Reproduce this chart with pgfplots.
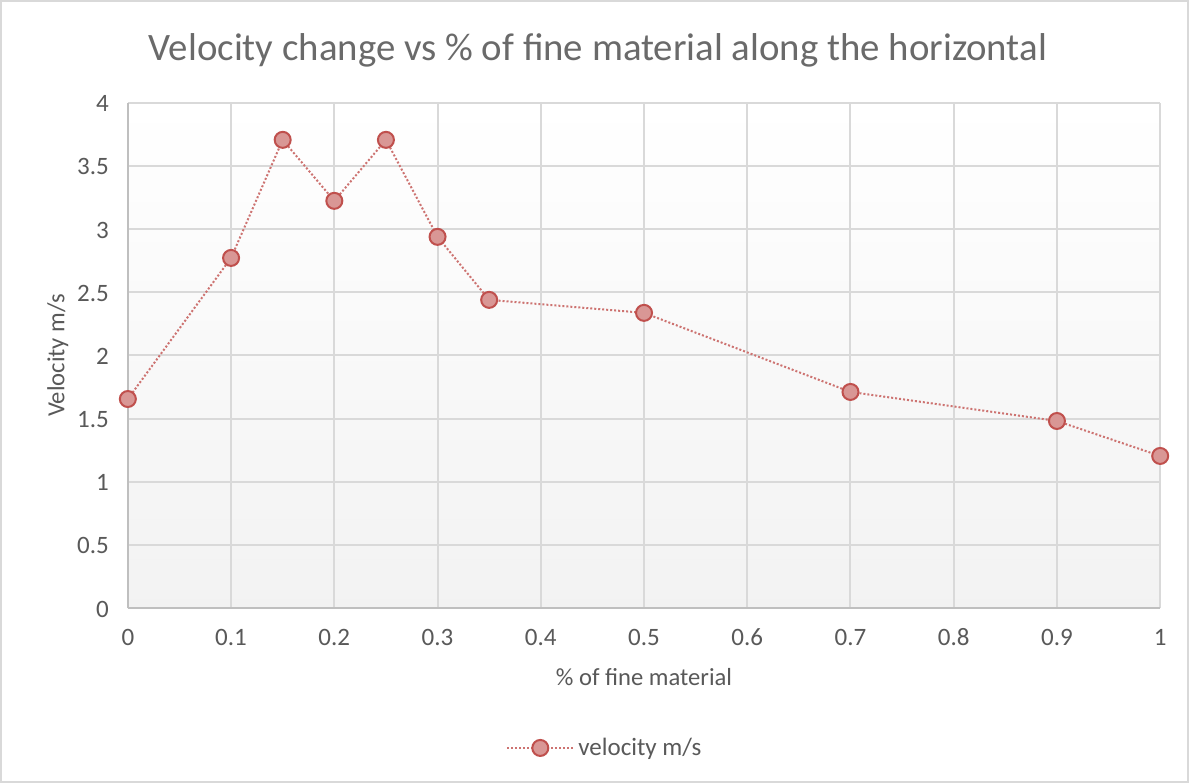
\documentclass[border=0pt]{standalone}
\usepackage{pgfplots}
\pgfplotsset{compat=1.18}
\usepackage{fontspec}
\setmainfont{Carlito}
\definecolor{txt}{HTML}{595959}
\definecolor{ttl}{HTML}{6A6A6A}
\definecolor{gridc}{HTML}{D9D9D9}
\definecolor{axc}{HTML}{BFBFBF}
\definecolor{edge}{HTML}{C0504D}
\definecolor{mfill}{HTML}{D99795}
\begin{document}
\begin{tikzpicture}[x=0.5pt,y=-0.5pt]
\draw[gridc, line width=0.8pt, fill=white] (1,1) rectangle (1188,782);
\node[ttl, font=\fontsize{19.4}{23}\selectfont, anchor=base] at (598,61) {Velocity change vs \% of fine material along the horizontal};
\coordinate (ll) at (128,608);
\begin{axis}[
  at={(ll)}, anchor=south west,
  scale only axis, width=516pt, height=252.5pt,
  xmin=0, xmax=1, ymin=0, ymax=4,
  xtick={0,0.1,...,1.01}, ytick={0,0.5,...,4.01},
  xticklabels={0,0.1,0.2,0.3,0.4,0.5,0.6,0.7,0.8,0.9,1},
  yticklabels={0,0.5,1,1.5,2,2.5,3,3.5,4},
  major tick length=0pt,
  grid=major,
  major grid style={gridc, line width=1pt},
  axis line style={axc, line width=1pt},
  axis x line*=bottom, axis y line*=left,
  axis background/.style={top color=white, bottom color=black!5},
  ticklabel style={txt, font=\fontsize{12.5}{15}\selectfont, text height=9pt, text depth=0pt},
  xticklabel style={yshift=-6pt},
  yticklabel style={xshift=-6pt},
  xlabel={\% of fine material}, ylabel={Velocity m/s},
  label style={txt, font=\fontsize{12.3}{15}\selectfont},
  xlabel style={yshift=-5pt},
  ylabel style={yshift=-2.5pt},
  clip=false,
  legend style={at={(0.463,-0.277)}, anchor=center, draw=none, fill=none,
    font=\fontsize{12.5}{15}\selectfont, text=txt},
  legend image code/.code={\draw[mark repeat=2,mark phase=2] plot coordinates {(0pt,0pt)(16.5pt,0pt)(33pt,0pt)};},
]
\addplot[color=edge!80, line width=1pt, dash pattern=on 1pt off 1pt,
  mark=*, mark size=4pt, mark options={solid, draw=edge, fill=mfill, line width=1pt}]
  coordinates {
  (0,1.655) (0.1,2.772) (0.15,3.707) (0.2,3.224) (0.25,3.707) (0.3,2.939)
  (0.35,2.44) (0.5,2.337) (0.7,1.711) (0.9,1.481) (1.0,1.204)
  };
\addlegendentry{velocity m/s}
\end{axis}
\end{tikzpicture}
\end{document}
